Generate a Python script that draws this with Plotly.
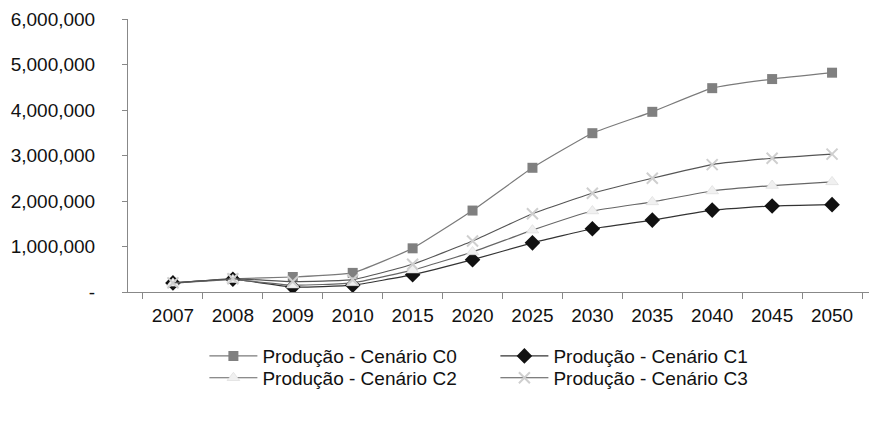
import plotly.graph_objects as go

years = ["2007", "2008", "2009", "2010", "2015", "2020", "2025", "2030", "2035", "2040", "2045", "2050"]
c0 = [200000, 290000, 330000, 420000, 960000, 1790000, 2730000, 3490000, 3960000, 4480000, 4680000, 4820000]
c1 = [200000, 280000, 110000, 150000, 380000, 710000, 1080000, 1390000, 1580000, 1800000, 1890000, 1920000]
c2 = [190000, 270000, 150000, 200000, 480000, 880000, 1360000, 1780000, 1980000, 2220000, 2340000, 2420000]
c3 = [200000, 290000, 230000, 270000, 610000, 1120000, 1720000, 2170000, 2500000, 2800000, 2940000, 3030000]
names = ["Produção - Cenário C0", "Produção - Cenário C1", "Produção - Cenário C2", "Produção - Cenário C3"]
yticks = [0, 1000000, 2000000, 3000000, 4000000, 5000000, 6000000]
yticktext = ["-", "1,000,000", "2,000,000", "3,000,000", "4,000,000", "5,000,000", "6,000,000"]

FONT = "Liberation Sans, Arial, sans-serif"

fig = go.Figure()
fig.add_trace(go.Scatter(x=years, y=c0, name=names[0], mode="lines+markers", legend="legend",
                         line=dict(color="#7a7a7a", width=1.2, shape="spline", smoothing=0.4),
                         marker=dict(symbol="square", size=10, color="#808080")))
fig.add_trace(go.Scatter(x=years, y=c1, name=names[1], mode="lines+markers", legend="legend",
                         line=dict(color="#333333", width=1.2, shape="spline", smoothing=0.4),
                         marker=dict(symbol="diamond", size=12, color="#111111")))
fig.add_trace(go.Scatter(x=years, y=c2, name=names[2], mode="lines+markers", legend="legend2",
                         line=dict(color="#666666", width=1.2, shape="spline", smoothing=0.4),
                         marker=dict(symbol="triangle-up", size=11, color="#f0f0f0",
                                     line=dict(color="#d8d8d8", width=0.6))))
fig.add_trace(go.Scatter(x=years, y=c3, name=names[3], mode="lines+markers", legend="legend2",
                         line=dict(color="#555555", width=1.2, shape="spline", smoothing=0.4),
                         marker=dict(symbol="x-thin", size=11, color="#d0d0d0",
                                     line=dict(color="#cfcfcf", width=2))))

leg = dict(orientation="h", x=0.102, xanchor="left", yanchor="top",
           entrywidth=228, entrywidthmode="pixels", itemwidth=48,
           font=dict(family=FONT, size=19, color="#111111"),
           tracegroupgap=0, bgcolor="rgba(0,0,0,0)")

fig.update_layout(
    width=877, height=422,
    margin=dict(l=120, r=8, t=11, b=138),
    paper_bgcolor="white", plot_bgcolor="white",
    font=dict(family=FONT, size=19, color="#111111"),
    showlegend=True,
    legend=dict(leg, y=-0.165),
    legend2=dict(leg, y=-0.245),
    xaxis=dict(type="category", showgrid=False, showline=True, linecolor="#888888",
               linewidth=1, ticks="outside", tickson="boundaries", ticklen=6,
               tickcolor="#888888", tickfont=dict(size=19), zeroline=False,
               ticklabelstandoff=6, automargin=False),
    yaxis=dict(range=[0, 6000000], tickvals=yticks, ticktext=yticktext, showgrid=False,
               showline=True, linecolor="#888888", linewidth=1, ticks="outside",
               ticklen=5, tickcolor="#888888", tickfont=dict(size=19), zeroline=False,
               ticklabelstandoff=23, automargin=False),
)

fig.write_html("out.html")
